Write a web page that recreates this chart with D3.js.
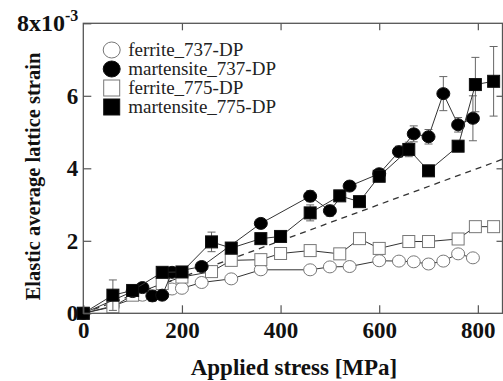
<!DOCTYPE html>
<html>
<head>
<meta charset="utf-8">
<script src="https://cdnjs.cloudflare.com/ajax/libs/d3/7.8.5/d3.min.js"></script>
<style>
  body { margin: 0; background: #fff; }
  svg text { font-family: "Liberation Serif", "Times New Roman", serif; }
</style>
</head>
<body>
<div id="chart"></div>
<script>
// strain values are in units of 1e-3
var stress737F = [0, 60, 120, 180, 200, 240, 300, 360, 460, 500, 540, 600, 640, 670, 700, 730, 760, 790];
var ferrite737 = [0, 0.2, 0.5, 0.67, 0.69, 0.85, 0.95, 1.2, 1.2, 1.28, 1.29, 1.45, 1.44, 1.42, 1.36, 1.44, 1.64, 1.53];

var stress737M = [0, 100, 120, 140, 160, 180, 240, 360, 460, 500, 540, 600, 640, 670, 700, 730, 760, 790];
var martensite737 = [0, 0.6, 0.71, 0.48, 0.5, 1.13, 1.29, 2.48, 3.23, 2.83, 3.51, 3.85, 4.46, 4.95, 4.87, 6.06, 5.2, 5.38];
var err737 = [0, 0.05, 0.05, 0.15, 0.1, 0.12, 0.1, 0.12, 0.15, 0.15, 0.12, 0.08, 0.15, 0.22, 0.2, 0.47, 0.2, 0.62];

var stress775 = [0, 60, 100, 160, 200, 260, 300, 360, 400, 460, 520, 560, 600, 660, 700, 760, 795, 832];
var ferrite775 = [0, 0.18, 0.5, 0.82, 1.0, 1.15, 1.46, 1.48, 1.65, 1.73, 1.64, 2.06, 1.79, 1.98, 1.98, 2.05, 2.39, 2.39];
var martensite775 = [0, 0.5, 0.63, 1.13, 1.14, 1.97, 1.8, 2.06, 2.12, 2.77, 3.24, 3.08, 3.78, 4.52, 3.93, 4.61, 6.31, 6.4];
var err775 = [0, 0.42, 0.05, 0.1, 0.1, 0.27, 0.15, 0.05, 0.05, 0.22, 0.05, 0.05, 0.06, 0.2, 0.15, 0.1, 0.75, 0.96];

var dashX = [0, 850];
var dashY = [0, 4.25];

var xTicks = [0, 200, 400, 600, 800];
var yTicks = [0, 2, 4, 6, 8];
var legendNames = ["ferrite_737-DP", "martensite_737-DP", "ferrite_775-DP", "martensite_775-DP"];

var width = 503, height = 381;

var svg = d3.select("#chart").append("svg")
	.attr("width", width)
	.attr("height", height);

var x = d3.scaleLinear().domain([0, 850]).range([83.3, 502.5]);
var y = d3.scaleLinear().domain([0, 8]).range([313.3, 23.3]);

function zip(xs, ys, es){
	return xs.map(function(d, i){ return {x: d, y: ys[i], e: es ? es[i] : 0}; });
}

var series = [
	{name: legendNames[0], data: zip(stress737F, ferrite737), shape: "circle", filled: false},
	{name: legendNames[2], data: zip(stress775, ferrite775), shape: "square", filled: false},
	{name: legendNames[1], data: zip(stress737M, martensite737, err737), shape: "circle", filled: true},
	{name: legendNames[3], data: zip(stress775, martensite775, err775), shape: "square", filled: true}
];

// dashed reference line
svg.append("line")
	.attr("x1", x(dashX[0])).attr("y1", y(dashY[0]))
	.attr("x2", x(dashX[1])).attr("y2", y(dashY[1]))
	.attr("stroke", "#333")
	.attr("stroke-width", 1.3)
	.attr("stroke-dasharray", "6,5");

var line = d3.line()
	.x(function(d){ return x(d.x); })
	.y(function(d){ return y(d.y); });

function drawMarker(g, shape, filled, size){
	var m;
	if (shape == "circle"){
		m = g.append("ellipse").attr("rx", size / 2 + 0.5).attr("ry", size / 2);
	}
	else{
		m = g.append("rect")
			.attr("x", -size / 2).attr("y", -size / 2)
			.attr("width", size).attr("height", size);
	}
	m.attr("fill", filled ? "#000" : "#fff")
		.attr("stroke", filled ? "#111" : "#777")
		.attr("stroke-width", 1);
}

series.forEach(function(s){
	var g = svg.append("g");

	g.append("path")
		.datum(s.data)
		.attr("d", line)
		.attr("fill", "none")
		.attr("stroke", "#333")
		.attr("stroke-width", 1);

	// error bars
	var eb = g.selectAll(".eb")
		.data(s.data.filter(function(d){ return d.e > 0; }))
		.enter().append("g")
		.attr("stroke", "#666")
		.attr("stroke-width", 1);
	eb.append("line")
		.attr("x1", function(d){ return x(d.x); })
		.attr("x2", function(d){ return x(d.x); })
		.attr("y1", function(d){ return y(d.y - d.e); })
		.attr("y2", function(d){ return y(d.y + d.e); });
	[-1, 1].forEach(function(sgn){
		eb.append("line")
			.attr("x1", function(d){ return x(d.x) - 4; })
			.attr("x2", function(d){ return x(d.x) + 4; })
			.attr("y1", function(d){ return y(d.y + sgn * d.e); })
			.attr("y2", function(d){ return y(d.y + sgn * d.e); });
	});

	g.selectAll(".pt")
		.data(s.data)
		.enter().append("g")
		.attr("transform", function(d){ return "translate(" + x(d.x) + "," + y(d.y) + ")"; })
		.each(function(){ drawMarker(d3.select(this), s.shape, s.filled, 12); });
});

// frame and axes
svg.append("rect")
	.attr("x", 83.3).attr("y", 23.3)
	.attr("width", 502.5 - 83.3).attr("height", 313.3 - 23.3)
	.attr("fill", "none")
	.attr("stroke", "#555")
	.attr("stroke-width", 1.3);

svg.append("g")
	.attr("transform", "translate(0," + 313.3 + ")")
	.call(d3.axisBottom(x).tickValues(xTicks).tickSize(-8).tickPadding(8).tickFormat(d3.format("d")));

svg.append("g")
	.attr("transform", "translate(0," + 23.3 + ")")
	.call(d3.axisTop(x).tickValues(xTicks.slice(1)).tickSize(-7).tickFormat(""));

svg.append("g")
	.attr("transform", "translate(" + 83.3 + ",0)")
	.call(d3.axisLeft(y).tickValues(yTicks).tickSize(-8).tickPadding(5).tickFormat(function(d){ return d == 8 ? "" : d; }));

svg.append("g")
	.attr("transform", "translate(" + 502.5 + ",0)")
	.call(d3.axisRight(y).tickValues(yTicks.slice(1, 4)).tickSize(-6).tickFormat(""));

svg.selectAll(".domain").remove();
svg.selectAll(".tick line").attr("stroke", "#555").attr("stroke-width", 1.2);
svg.selectAll(".tick text")
	.attr("fill", "#111")
	.style("font-family", "'Liberation Serif', serif")
	.style("font-size", "23px")
	.style("font-weight", "bold");

// top label 8x10^-3
var topLabel = svg.append("text")
	.attr("x", 78.3)
	.attr("y", y(8) + 8)
	.attr("text-anchor", "end")
	.attr("fill", "#111")
	.style("font-size", "24px")
	.style("font-weight", "bold");
topLabel.append("tspan").text("8x10");
topLabel.append("tspan").attr("dy", -10).style("font-size", "16px").text("-3");

// axis titles
svg.append("text")
	.attr("x", 294)
	.attr("y", 375)
	.attr("text-anchor", "middle")
	.attr("fill", "#111")
	.style("font-size", "23px")
	.style("font-weight", "bold")
	.text("Applied stress [MPa]");

svg.append("text")
	.attr("transform", "translate(40,176.5) rotate(-90)")
	.attr("text-anchor", "middle")
	.attr("fill", "#111")
	.style("font-size", "20.5px")
	.style("font-weight", "bold")
	.text("Elastic average lattice strain");

// legend
var legendShapes = [
	{shape: "circle", filled: false},
	{shape: "circle", filled: true},
	{shape: "square", filled: false},
	{shape: "square", filled: true}
];
var legend = svg.selectAll(".legend")
	.data(legendNames)
	.enter().append("g")
	.attr("transform", function(d, i){ return "translate(111.7," + (50 + i * 19) + ")"; });

legend.each(function(d, i){
	drawMarker(d3.select(this), legendShapes[i].shape, legendShapes[i].filled, 16);
});

legend.append("text")
	.attr("x", 16.5)
	.attr("y", 6)
	.attr("fill", "#222")
	.style("font-size", "19px")
	.text(function(d){ return d; });
</script>
</body>
</html>
